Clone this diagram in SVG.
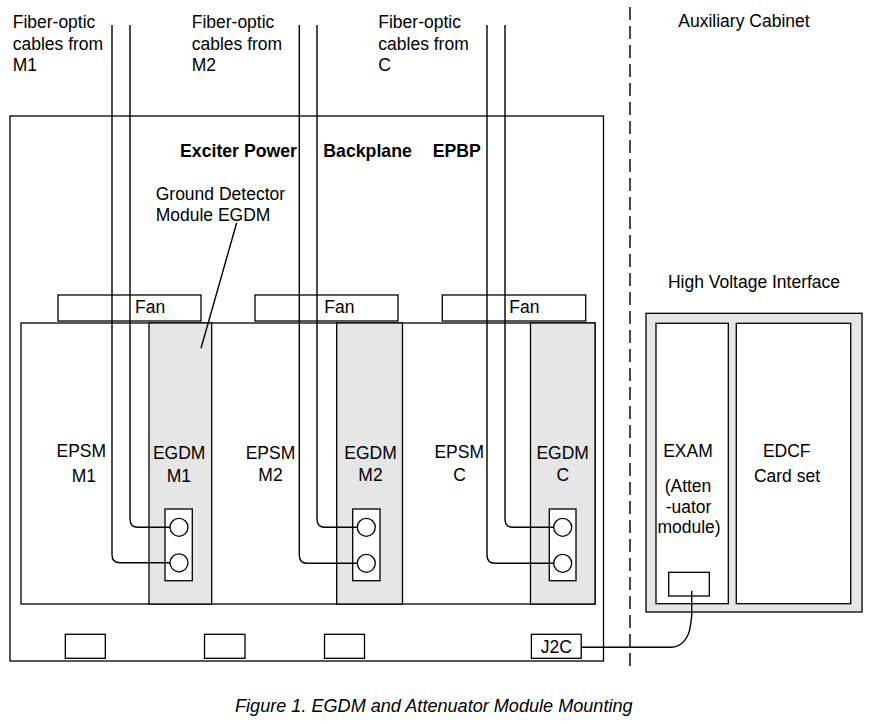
<svg xmlns="http://www.w3.org/2000/svg" width="872" height="724" viewBox="0 0 872 724">
<style>
text{font-family:"Liberation Sans",Arial,sans-serif;font-size:17.5px;fill:#000}
.b{font-weight:bold;font-size:17.7px}
.c{text-anchor:middle}
.cap{font-style:italic;font-size:18.1px}
.box{fill:#fff;stroke:#000;stroke-width:1.3}
.gray{fill:#e6e6e6;stroke:#000;stroke-width:1.3}
.ln{fill:none;stroke:#000;stroke-width:1.4}
.dash{fill:none;stroke:#000;stroke-width:1.4;stroke-dasharray:13 6}
</style>
<rect width="872" height="724" fill="#fff"/>
<g id="labels-top">
<text x="12.7" y="28.3">Fiber-optic</text>
<text x="12.7" y="50">cables from</text>
<text x="12.7" y="71.3">M1</text>
<text x="191.7" y="28.3">Fiber-optic</text>
<text x="191.7" y="50">cables from</text>
<text x="191.7" y="71.3">M2</text>
<text x="378.3" y="28.3">Fiber-optic</text>
<text x="378.3" y="50">cables from</text>
<text x="378.3" y="71.3">C</text>
<text x="678.3" y="26.7">Auxiliary Cabinet</text>
</g>
<g id="epbp">
<rect class="box" x="10" y="116" width="593.5" height="545"/>
<text class="b" x="180" y="157">Exciter Power</text>
<text class="b" x="323.3" y="157">Backplane</text>
<text class="b" x="432.7" y="157">EPBP</text>
<text x="155.7" y="200">Ground Detector</text>
<text x="155.7" y="220.7">Module EGDM</text>
</g>
<g id="fans">
<g id="fan1"><rect class="box" x="58" y="295" width="143" height="26"/><text x="135" y="312.7">Fan</text></g>
<g id="fan2"><rect class="box" x="255" y="295" width="143" height="26"/><text x="324.3" y="312.7">Fan</text></g>
<g id="fan3"><rect class="box" x="442.3" y="295" width="143.4" height="26"/><text x="509.3" y="312.7">Fan</text></g>
</g>
<g id="epsm">
<rect class="box" x="21" y="323" width="574" height="281"/>
<text class="c" x="81.3" y="457.3">EPSM</text>
<text class="c" x="83.8" y="481.7">M1</text>
<text class="c" x="270.5" y="459">EPSM</text>
<text class="c" x="270.5" y="481">M2</text>
<text class="c" x="459.2" y="458.3">EPSM</text>
<text class="c" x="459.5" y="481">C</text>
</g>
<g id="egdm-m1">
<rect class="gray" x="149" y="323" width="62.7" height="281"/>
<text class="c" x="179.2" y="459">EGDM</text>
<text class="c" x="178.9" y="481.7">M1</text>
<rect class="box" x="165" y="509" width="27.3" height="71.7"/>
<circle class="box" cx="179" cy="527.3" r="9"/>
<circle class="box" cx="179" cy="562.8" r="9"/>
</g>
<g id="egdm-m2">
<rect class="gray" x="336.7" y="323" width="65.8" height="281"/>
<text class="c" x="370.5" y="459">EGDM</text>
<text class="c" x="370.5" y="480.7">M2</text>
<rect class="box" x="352.7" y="509" width="27.3" height="71.7"/>
<circle class="box" cx="366.3" cy="527.3" r="9"/>
<circle class="box" cx="366.3" cy="563.3" r="9"/>
</g>
<g id="egdm-c">
<rect class="gray" x="530.5" y="323" width="64.5" height="281"/>
<text class="c" x="562.7" y="459">EGDM</text>
<text class="c" x="562.7" y="480.7">C</text>
<rect class="box" x="549.3" y="509" width="26.7" height="71.7"/>
<circle class="box" cx="562.7" cy="527.3" r="9"/>
<circle class="box" cx="562.7" cy="563.3" r="9"/>
</g>
<g id="ports">
<rect class="box" x="65.3" y="634.3" width="40" height="24"/>
<rect class="box" x="204.5" y="634.3" width="40.5" height="24"/>
<rect class="box" x="324.5" y="634.3" width="40" height="24"/>
<g id="j2c"><rect class="box" x="531.4" y="634.3" width="49.8" height="24"/><text class="c" x="556.3" y="652.5">J2C</text></g>
</g>
<g id="hvi">
<text class="c" x="754" y="288.3">High Voltage Interface</text>
<rect class="gray" x="646" y="313.3" width="216" height="298.7"/>
<g id="exam">
<rect class="box" x="656" y="323.3" width="72.3" height="280.4"/>
<text class="c" x="688" y="456.7">EXAM</text>
<text class="c" x="688" y="492">(Atten</text>
<text class="c" x="688.5" y="512.5">-uator</text>
<text class="c" x="689" y="533">module)</text>
<rect class="box" x="668.7" y="572.3" width="40.6" height="23.7"/>
</g>
<g id="edcf">
<rect class="box" x="736.3" y="323.3" width="114.4" height="280.4"/>
<text class="c" x="786.7" y="456.7">EDCF</text>
<text class="c" x="787" y="481.7">Card set</text>
</g>
</g>
<g id="connectors">
<path class="ln" d="M130,25 V519 Q130,527.3 138,527.3 H170"/>
<path class="ln" d="M112,25 V554.8 Q112,562.8 120,562.8 H170"/>
<path class="ln" d="M317,25 V519 Q317,527.3 325,527.3 H357.3"/>
<path class="ln" d="M299.3,25 V555.3 Q299.3,563.3 307.3,563.3 H357.3"/>
<path class="ln" d="M505,25 V519 Q505,527.3 513,527.3 H553.7"/>
<path class="ln" d="M487,25 V555.3 Q487,563.3 495,563.3 H553.7"/>
<path class="ln" d="M236.7,222.7 L201,348.3"/>
<path class="ln" d="M581.2,647.3 H671 C682,647 689,638 690.5,625 L691.7,616 V590.7"/>
<path class="dash" d="M630,7 V672"/>
</g>
<text class="cap" x="235" y="711.5">Figure 1. EGDM and Attenuator Module Mounting</text>
</svg>
